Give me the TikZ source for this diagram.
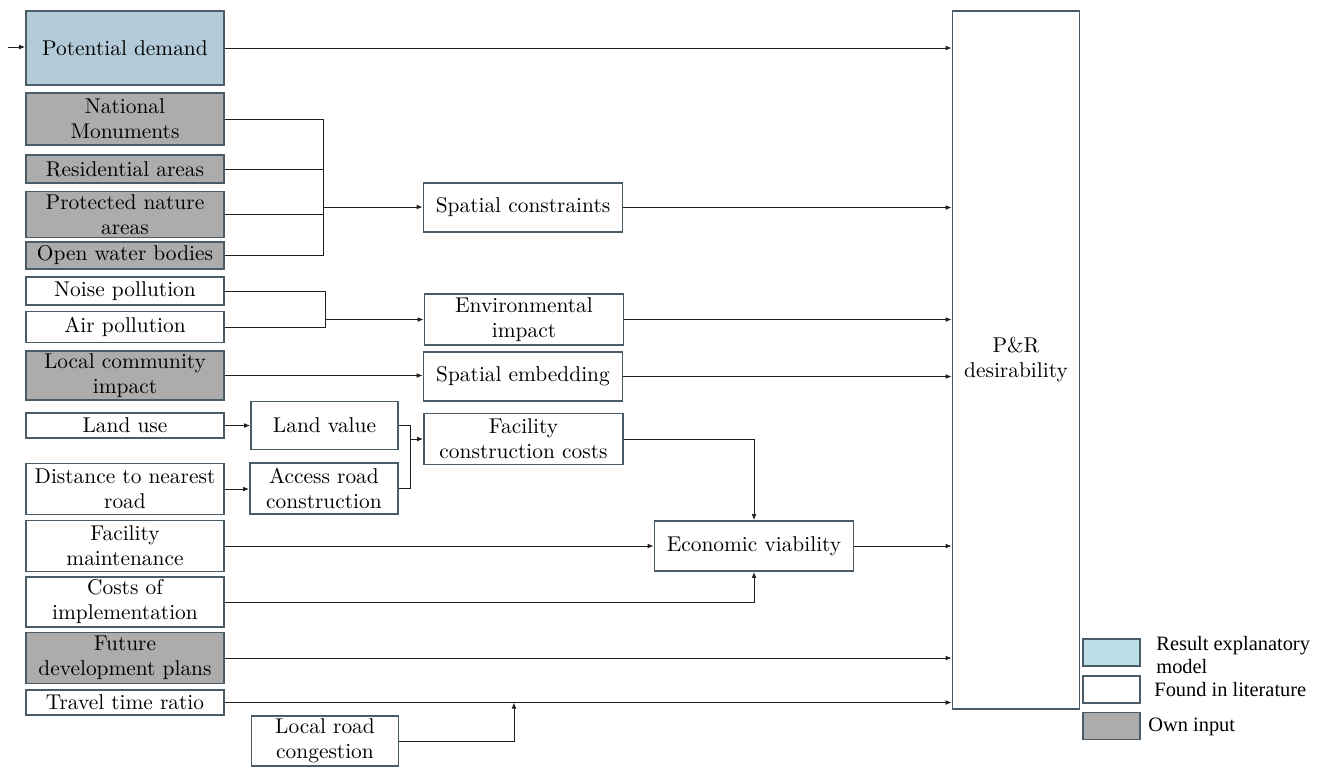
\documentclass[tikz,border=0pt]{standalone}
\usepackage{fontspec}
\newfontfamily\legendfont{Liberation Serif}
\usetikzlibrary{arrows.meta}
\definecolor{edgecol}{HTML}{4A5C68}
\definecolor{modelblue}{HTML}{B3CBD8}
\definecolor{legendblue}{HTML}{BDE0E8}
\definecolor{owngray}{HTML}{ACACAC}
\definecolor{wirecol}{HTML}{1E1E1E}
\begin{document}
\begin{tikzpicture}[x=0.5pt,y=-0.5pt,
  bx/.style n args={2}{draw=edgecol, line width=0.9pt, fill=white,
    minimum width=#1*0.5pt, minimum height=#2*0.5pt, inner sep=1pt,
    align=center, font=\fontsize{10.7}{12.5}\selectfont},
  model/.style={fill=modelblue},
  own/.style={fill=owngray},
  wire/.style={draw=wirecol, line width=0.5pt},
  arr/.style={wire, -{Latex[length=3pt,width=2.4pt]}},
  legtext/.style={font=\legendfont\fontsize{10.2}{11.9}\selectfont, inner sep=0pt, align=left}
]
\useasboundingbox (0,0) rectangle (1322,767);

% left column: input factors
\node[bx={198}{74}, model] (pd) at (125,48)    {Potential demand};
\node[bx={198}{52}, own]   (nm) at (125,119)   {National\\Monuments};
\node[bx={198}{28}, own]   (ra) at (125,169)   {Residential areas};
\node[bx={198}{46}, own]   (pn) at (125,214.5) {Protected nature\\areas};
\node[bx={198}{27}, own]   (ow) at (125,255.5) {Open water bodies};
\node[bx={198}{28}]        (np) at (125,291)   {Noise pollution};
\node[bx={198}{31}]        (ap) at (125,327)   {Air pollution};
\node[bx={198}{49}, own]   (lc) at (125,375.5) {Local community\\impact};
\node[bx={198}{25}]        (lu) at (125,425.5) {Land use};
\node[bx={198}{51}]        (dn) at (125,489)   {Distance to nearest\\road};
\node[bx={198}{51}]        (fm) at (125,546)   {Facility\\maintenance};
\node[bx={198}{50}]        (ci) at (125,602)   {Costs of\\implementation};
\node[bx={198}{51}, own]   (fd) at (125,658)   {Future\\development plans};
\node[bx={198}{25}]        (tt) at (125,702.5) {Travel time ratio};
\node[bx={147}{50}]        (lr) at (325,741)   {Local road\\congestion};

% intermediate factors
\node[bx={147}{48}] (lv) at (324.5,425.5) {Land value};
\node[bx={148}{51}] (ar) at (324,488.5)   {Access road\\construction};
\node[bx={199}{49}] (sc) at (523,207.5)   {Spatial constraints};
\node[bx={199}{51}] (ei) at (524,319.5)   {Environmental\\impact};
\node[bx={199}{49}] (se) at (523,376.5)   {Spatial embedding};
\node[bx={199}{51}] (fc) at (523.5,439)   {Facility\\construction costs};
\node[bx={199}{50}] (ev) at (754,546)     {Economic viability};

% outcome
\node[bx={127}{698}] (pr) at (1016,360) {P\&R\\desirability};

% legend
\node[bx={57}{27}, fill=legendblue] (k1) at (1111.5,652.5) {};
\node[bx={57}{27}]                  (k2) at (1111.5,689.5) {};
\node[bx={57}{27}, own]             (k3) at (1111.5,726)   {};
\node[legtext, anchor=west] (t1) at (1156,655) {Result explanatory\\model};
\node[legtext, anchor=west] (t2) at (1154,690) {Found in literature};
\node[legtext, anchor=west] (t3) at (1148,727) {Own input};

% junction points
\coordinate (src)  at (8,47);
\coordinate (sbus) at (323,207);
\coordinate (ebus) at (325,319.5);
\coordinate (lbus) at (410,439);
\coordinate (tj)   at (514,702.5);

% connectors
\draw[arr] (src) -- (src -| pd.west);
\draw[arr] (pd.east) -- (pd.east -| pr.west);

\draw[wire] (nm.east) -- (nm.east -| sbus) -- (ow.east -| sbus) -- (ow.east);
\draw[wire] (ra.east) -- (ra.east -| sbus);
\draw[wire] (pn.east) -- (pn.east -| sbus);
\draw[arr] (sbus) -- (sbus -| sc.west);
\draw[arr] (sc.east) -- (sc.east -| pr.west);

\draw[wire] (np.east) -- (np.east -| ebus) -- (ap.east -| ebus) -- (ap.east);
\draw[arr] (ebus) -- (ebus -| ei.west);
\draw[arr] (ei.east) -- (ei.east -| pr.west);

\draw[arr] (lc.east) -- (lc.east -| se.west);
\draw[arr] (se.east) -- (se.east -| pr.west);

\draw[arr] (lu.east) -- (lu.east -| lv.west);
\draw[arr] (dn.east) -- (dn.east -| ar.west);
\draw[wire] (lv.east) -- (lv.east -| lbus) -- (ar.east -| lbus) -- (ar.east);
\draw[arr] (lbus) -- (lbus -| fc.west);

\draw[arr] (fc.east) -| (ev.north);
\draw[arr] (fm.east) -- (fm.east -| ev.west);
\draw[arr] (ci.east) -| (ev.south);
\draw[arr] (ev.east) -- (ev.east -| pr.west);

\draw[arr] (fd.east) -- (fd.east -| pr.west);
\draw[arr] (tt.east) -- (tt.east -| pr.west);
\draw[arr] (lr.east) -| (tj);
\end{tikzpicture}
\end{document}
